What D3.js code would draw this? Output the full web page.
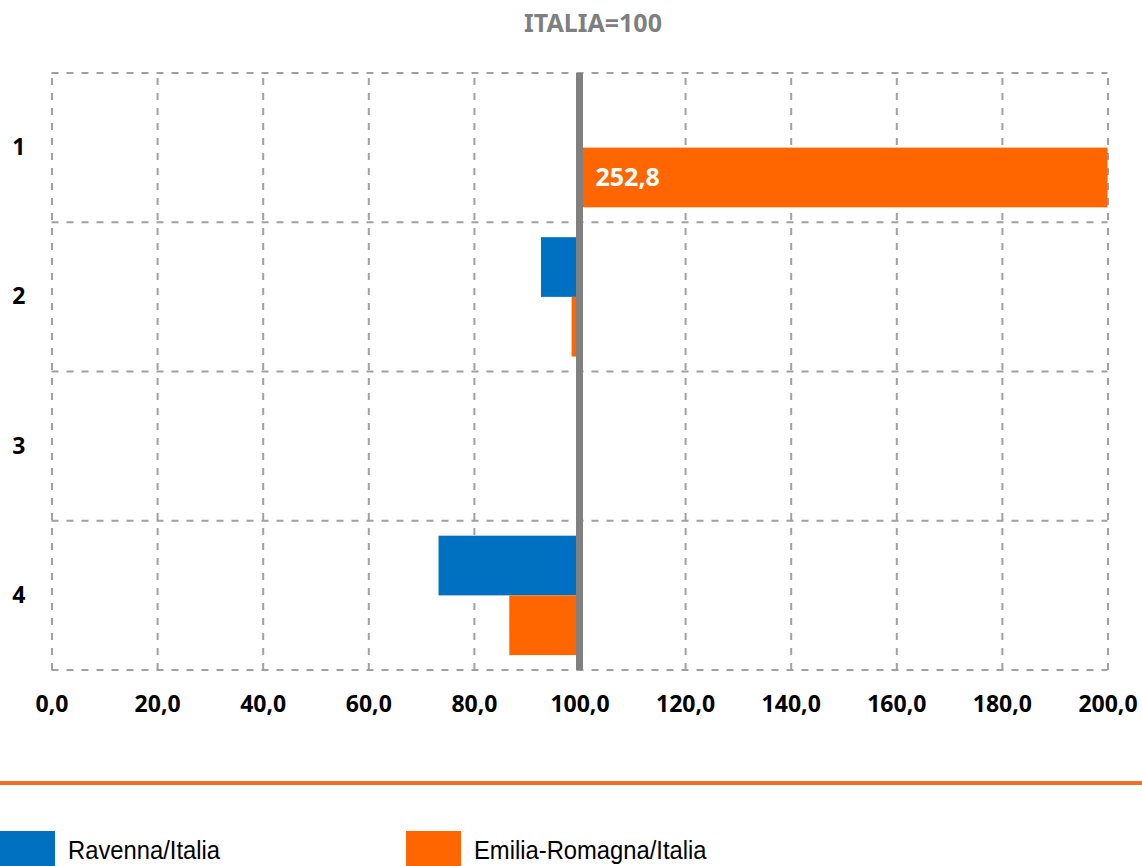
<!DOCTYPE html>
<meta charset="utf-8">
<style type="text/css">
    body { margin: 0; background: #fff; }
    svg { display: block; }
    .grid line { stroke: #a0a0a0; stroke-width: 2; stroke-dasharray: 7,8; }
    .x.axis text, .y.axis text { font-family: "Noto Sans", sans-serif; font-weight: bold; font-size: 23px; fill: #000; }
    .legend text { font-family: "Liberation Sans Narrow", "Liberation Sans", sans-serif; font-size: 26px; fill: #000; }
</style>
<body>
</body>
<script src="https://d3js.org/d3.v7.min.js"></script>
<script>
// data (Italia = 100)
var categories = ["1", "2", "3", "4"];
var seriesNames = ["Ravenna/Italia", "Emilia-Romagna/Italia"];
var ravenna = [null, 92.7, null, 73.3];
var emilia = [252.8, 98.5, null, 86.7];
var xTicks = [0, 20, 40, 60, 80, 100, 120, 140, 160, 180, 200];
var colors = ["#0070c0", "#ff6600"];
var title = "ITALIA=100";

var width = 1142, height = 866;
var plot = {left: 51.5, right: 1107.5, top: 73, bottom: 670};
var base = 100, xMax = 200;

var svg = d3.select("body").append("svg")
    .attr("width", width)
    .attr("height", height);

var x = d3.scaleLinear().domain([0, xMax]).range([plot.left, plot.right]);
var y = d3.scaleBand().domain(categories).range([plot.top, plot.bottom]);
var ySub = d3.scaleBand().domain(seriesNames).range([0, y.bandwidth()])
    .paddingInner(0).paddingOuter(0.25);

// title
svg.append("text")
    .attr("x", 593).attr("y", 32)
    .attr("text-anchor", "middle")
    .style("font-family", "'Noto Sans', sans-serif")
    .style("font-weight", "bold")
    .style("font-size", "25px")
    .style("fill", "#7f7f7f")
    .text(title);

// vertical grid + x tick labels
var fmt = function(d) { return d3.format(".1f")(d).replace(".", ","); };
var xAxis = svg.append("g")
    .attr("class", "x axis grid")
    .attr("transform", "translate(0," + plot.bottom + ")")
    .call(d3.axisBottom(x).tickValues(xTicks).tickFormat(fmt)
        .tickSize(-(plot.bottom - plot.top)).tickPadding(26));
xAxis.select(".domain").remove();

// horizontal grid at band edges
var edges = categories.map(function(c) { return y(c); }).concat([y.range()[1]]);
svg.append("g")
    .attr("class", "grid")
    .selectAll("line")
    .data(edges)
    .enter().append("line")
    .attr("x1", plot.left).attr("x2", plot.right)
    .attr("y1", function(d) { return d; })
    .attr("y2", function(d) { return d; });

// y labels
var yAxis = svg.append("g")
    .attr("class", "y axis")
    .attr("transform", "translate(" + plot.left + ",0)")
    .call(d3.axisLeft(y).tickSize(0).tickPadding(26));
yAxis.select(".domain").remove();

// bars
var rows = [];
categories.forEach(function(c, i) {
    [ravenna, emilia].forEach(function(s, j) {
        if (s[i] != null) rows.push({cat: c, series: seriesNames[j], color: colors[j], value: s[i]});
    });
});

svg.append("g").selectAll("rect")
    .data(rows)
    .enter().append("rect")
    .attr("x", function(d) { return x(Math.min(d.value, base)); })
    .attr("y", function(d) { return y(d.cat) + ySub(d.series); })
    .attr("width", function(d) { return Math.abs(x(Math.min(d.value, xMax)) - x(base)); })
    .attr("height", ySub.bandwidth())
    .attr("fill", function(d) { return d.color; });

// label for bars running past the axis end
svg.append("g").selectAll("text")
    .data(rows.filter(function(d) { return d.value > xMax; }))
    .enter().append("text")
    .attr("x", x(base) + 16)
    .attr("y", function(d) { return y(d.cat) + ySub(d.series) + ySub.bandwidth() / 2; })
    .attr("dy", "0.36em")
    .style("font-family", "'Noto Sans', sans-serif")
    .style("font-weight", "bold")
    .style("font-size", "25px")
    .style("fill", "#fff")
    .text(function(d) { return fmt(d.value); });

// the 100 line
svg.append("line")
    .attr("x1", x(base)).attr("x2", x(base))
    .attr("y1", plot.top).attr("y2", plot.bottom)
    .attr("stroke", "#808080")
    .attr("stroke-width", 7);

// separator
svg.append("rect")
    .attr("x", 0).attr("y", 781)
    .attr("width", width).attr("height", 4)
    .attr("fill", "#ee7026");

// legend
var legend = svg.append("g").attr("class", "legend")
    .selectAll("g")
    .data(seriesNames)
    .enter().append("g")
    .attr("transform", function(d, i) { return "translate(" + (i * 406) + ",831)"; });

legend.append("rect")
    .attr("width", 55).attr("height", 40)
    .attr("fill", function(d, i) { return colors[i]; });

// narrow-looking text: squeeze horizontally
legend.append("text")
    .attr("transform", "translate(68,28) scale(0.915,1)")
    .text(function(d) { return d; });
</script>
